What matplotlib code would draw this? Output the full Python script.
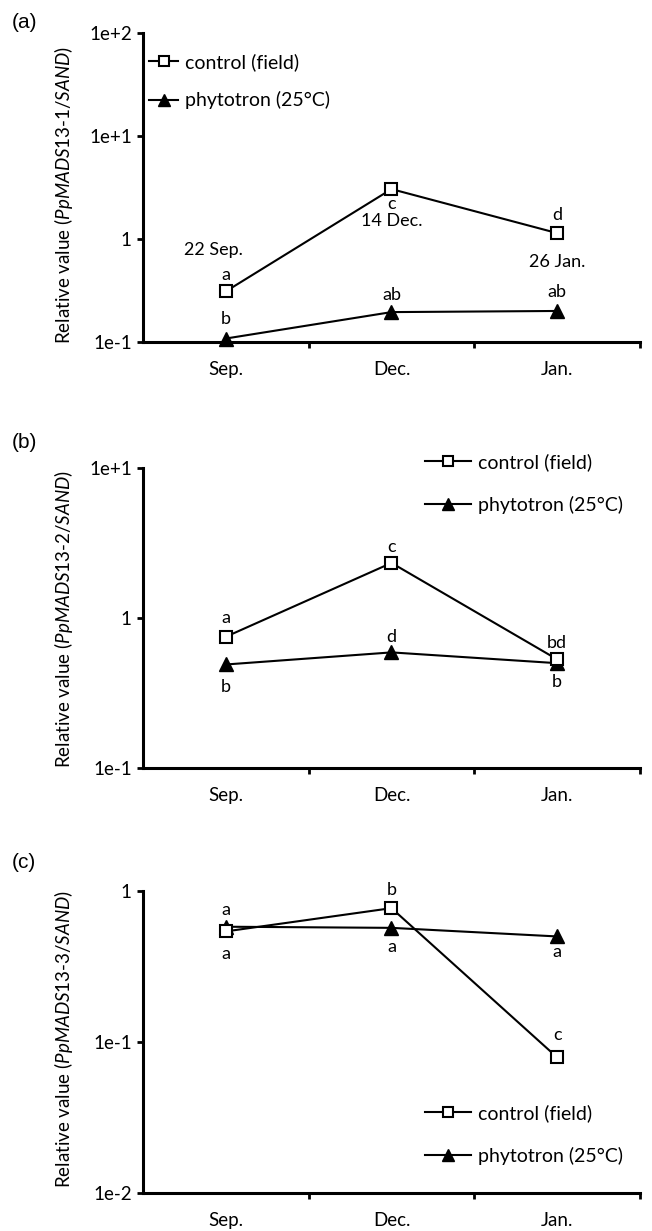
import numpy as np
import matplotlib.pyplot as plt
from matplotlib.ticker import FixedLocator, NullFormatter

plt.rcParams['font.family'] = ['Lato', 'DejaVu Sans']
plt.rcParams['mathtext.fontset'] = 'custom'
plt.rcParams['mathtext.it'] = 'Lato:italic'
plt.rcParams['mathtext.rm'] = 'Lato'

months = ['Sep.', 'Dec.', 'Jan.']
xpos = [0.5, 1.5, 2.5]

# panel (a)  PpMADS13-1
ctrl_a = [0.31, 3.05, 1.14]
phyt_a = [0.108, 0.195, 0.20]
ctrl_a_let = ['a', 'c', 'd']
phyt_a_let = ['b', 'ab', 'ab']
dates = ['22 Sep.', '14 Dec.', '26 Jan.']

# panel (b)  PpMADS13-2
ctrl_b = [0.75, 2.33, 0.53]
phyt_b = [0.49, 0.59, 0.50]
ctrl_b_let = ['a', 'c', 'bd']
phyt_b_let = ['b', 'd', 'b']

# panel (c)  PpMADS13-3
ctrl_c = [0.54, 0.77, 0.079]
phyt_c = [0.58, 0.57, 0.50]
ctrl_c_let = ['a', 'b', 'c']
phyt_c_let = ['a', 'a', 'a']

FS = 13

fig = plt.figure(figsize=(6.52, 12.31), dpi=100)


def label(ax, xs, ys, texts, offs):
    for x, y, t, o in zip(xs, ys, texts, offs):
        ax.annotate(t, (x, y), xytext=o, textcoords='offset points',
                    ha='center', va='center', fontsize=FS)


def panel(rect, ctrl, phyt, ylim, yticks, yticklabels, gene, tag, tag_y,
          ylab_y, leg_anchor, hlen, lspace):
    ax = fig.add_axes(rect)
    ax.set_yscale('log')
    l1, = ax.plot(xpos, ctrl, '-', color='black', lw=1.5, marker='s', ms=8.5,
                  mfc='white', mec='black', mew=1.5, zorder=4, clip_on=False)
    l2, = ax.plot(xpos, phyt, '-', color='black', lw=1.5, marker='^', ms=10,
                  mfc='black', mec='black', zorder=3, clip_on=False)
    ax.set_xlim(0, 3)
    ax.set_ylim(*ylim)
    for s in ['top', 'right']:
        ax.spines[s].set_visible(False)
    for s in ['left', 'bottom']:
        ax.spines[s].set_linewidth(2.2)
    ax.yaxis.set_major_locator(FixedLocator(yticks))
    ax.yaxis.set_minor_locator(FixedLocator([]))
    ax.set_yticklabels(yticklabels, fontsize=13.5)
    ax.tick_params(axis='y', length=4, width=2, pad=4)
    ax.set_xticks([1, 2, 3])
    ax.xaxis.set_major_formatter(NullFormatter())
    ax.set_xticks(xpos, minor=True)
    ax.set_xticklabels(months, minor=True, fontsize=13.5)
    ax.tick_params(axis='x', which='major', length=4, width=2)
    ax.tick_params(axis='x', which='minor', length=0, pad=14)
    ax.set_ylabel('Relative value ($\\it{Pp}$$\\it{MADS13}$-$\\it{' + gene + '/SAND}$)',
                  fontsize=13.5)
    ax.yaxis.set_label_coords(-0.137, ylab_y)
    fig.text(0.018, tag_y, tag, fontsize=15, family='Liberation Sans',
             ha='left', va='center')
    ax.legend([l1, l2], ['control (field)', 'phytotron (25°C)'],
              loc='upper left', bbox_to_anchor=leg_anchor,
              frameon=False, fontsize=14, handlelength=hlen,
              labelspacing=lspace, handletextpad=0.35, markerscale=0.85,
              borderpad=0, borderaxespad=0)
    return ax


ax = panel([0.2193, 0.7222, 0.7623, 0.2510], ctrl_a, phyt_a, (0.1, 100),
           [0.1, 1, 10, 100], ['1e-1', '1', '1e+1', '1e+2'], '1', '(a)',
           1 - 22 / 1231, 0.476, (0.012, 0.935), 1.5, 1.05)
label(ax, xpos, ctrl_a, ctrl_a_let, [(0, 11.5), (0, -10.5), (0, 13)])
label(ax, xpos, phyt_a, phyt_a_let, [(0, 14), (0, 12), (0, 13.5)])
label(ax, xpos, ctrl_a, dates, [(-9, 29.5), (0, -23), (0, -21)])

ax = panel([0.2193, 0.3761, 0.7623, 0.2437], ctrl_b, phyt_b, (0.1, 10),
           [0.1, 1, 10], ['1e-1', '1', '1e+1'], '2', '(b)',
           1 - 443 / 1231, 0.497, (0.567, 1.05), 2.4, 1.3)
label(ax, xpos, ctrl_b, ctrl_b_let, [(0, 13.5), (0, 11.5), (0, 11.5)])
label(ax, xpos, phyt_b, phyt_b_let, [(0, -16.5), (0, 11), (0, -13.5)])

ax = panel([0.2193, 0.0309, 0.7623, 0.2453], ctrl_c, phyt_c, (0.01, 1),
           [0.01, 0.1, 1], ['1e-2', '1e-1', '1'], '3', '(c)',
           1 - 863 / 1231, 0.51, (0.567, 0.295), 2.4, 1.3)
label(ax, xpos, ctrl_c, ctrl_c_let, [(0, -16), (0, 13), (0, 16)])
label(ax, xpos, phyt_c, phyt_c_let, [(0, 12), (0, -13.5), (0, -11.5)])

fig.savefig('out.png', dpi=100)
